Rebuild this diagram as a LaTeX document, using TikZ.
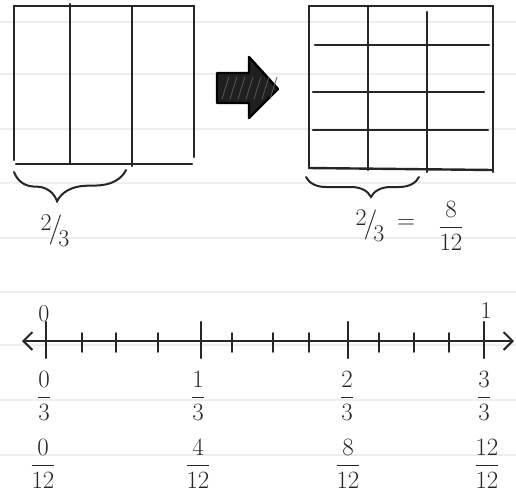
\documentclass[tikz,border=0pt]{standalone}
\usetikzlibrary{arrows.meta,decorations.pathreplacing}
\newcommand\myfr[2]{{\displaystyle\frac{#1}{#2}}}
\newcommand\slfr[2]{\raisebox{7pt}{#1}\kern-3pt{\fontsize{30}{30}\selectfont/}\kern-4pt\raisebox{-9pt}{#2}}
\begin{document}
\begin{tikzpicture}[x=1pt,y=-1pt,line cap=round,
  ink/.style={line width=2.4pt,draw=black!85},
  paperline/.style={line width=1.2pt,draw=blue!12!gray!12},
  lbl/.style={font=\fontsize{24}{28}\selectfont,inner sep=0pt,text=black!85},
  bigtick/.style={line width=2.2pt,draw=black!85},
  smalltick/.style={line width=1.8pt,draw=black!85},
  bracestyle/.style={line width=2pt,draw=black!85,decorate}]
\useasboundingbox (0,0) rectangle (516,496);
\fill[white] (0,0) rectangle (516,496);
% lined paper
\foreach \y in {22,74,129,183,238,292,345,400,455}
  \draw[paperline] (0,\y) -- (516,\y);
% left rectangle (thirds)
\draw[ink] (14,6) -- (194,6);
\draw[ink] (14,6) -- (14,160);
\draw[ink] (194,6) -- (194,157);
\draw[ink] (16,164) -- (192,164);
\draw[ink] (70,4) -- (70,164);
\draw[ink] (132,6) -- (132,166);
% block arrow
\draw[line width=2.4pt,draw=black,fill=black!88,line join=round]
  (217,73) -- (249,73) -- (249,57) -- (278,89) -- (249,118) -- (249,103) -- (217,103) -- cycle;
\foreach \i in {0,...,6}
  \draw[line width=0.8pt,draw=black!65] ({222+\i*8},99) -- ({229+\i*8},77);
% right grid (twelfths)
\draw[ink] (309,6) -- (493,6);
\draw[ink] (309,6) -- (309,168);
\draw[ink] (493,6) -- (493,172);
\draw[ink] (309,168) -- (493,170);
\draw[ink] (368,6) -- (368,170);
\draw[ink] (427,12) -- (427,172);
\draw[ink] (315,45) -- (489,45);
\draw[ink] (313,92) -- (484,92);
\draw[ink] (313,130) -- (488,130);
% braces
\coordinate (lb1) at (14,172);
\coordinate (lb2) at (126,170);
\draw[bracestyle,decoration={brace,mirror,amplitude=30pt,aspect=0.38}] (lb1) -- (lb2);
\coordinate (rb1) at (306,177);
\coordinate (rb2) at (419,177);
\draw[bracestyle,decoration={brace,mirror,amplitude=20pt,aspect=0.575}] (rb1) -- (rb2);
% brace labels
\node[lbl] (twothirdsL) at (55,231) {\slfr{2}{3}};
\node[lbl] (twothirdsR) at (370,226) {\slfr{2}{3}};
\node[lbl] (eq) at (406,224) {$=$};
\node[lbl] (eightTw) at (451,226) {$\myfr{8}{12}$};
% number line
\coordinate (nlL) at (22,341);
\coordinate (nlR) at (514,341);
\draw[line width=2.4pt,draw=black!85,{Straight Barb[length=9pt,width=18pt,line width=2pt]}-{Straight Barb[length=9pt,width=18pt,line width=2pt]}] (nlL) -- (nlR);
\foreach \x in {82,116,158,232,273,309,379,414,449}
  \draw[smalltick] (\x,333) -- (\x,352);
\foreach \x in {46,201,348,484}
  \draw[bigtick] (\x,322) -- (\x,358);
% number line labels
\node[lbl] (zero) at (44,314) {0};
\node[lbl] (one) at (486,311) {1};
\node[lbl] (f03) at (44,396) {$\myfr{0}{3}$};
\node[lbl] (f13) at (198,396) {$\myfr{1}{3}$};
\node[lbl] (f23) at (347,396) {$\myfr{2}{3}$};
\node[lbl] (f33) at (484,396) {$\myfr{3}{3}$};
\node[lbl] (f012) at (43,464) {$\myfr{0}{12}$};
\node[lbl] (f412) at (198,464) {$\myfr{4}{12}$};
\node[lbl] (f812) at (348,464) {$\myfr{8}{12}$};
\node[lbl] (f1212) at (487,464) {$\myfr{12}{12}$};
\end{tikzpicture}
\end{document}
